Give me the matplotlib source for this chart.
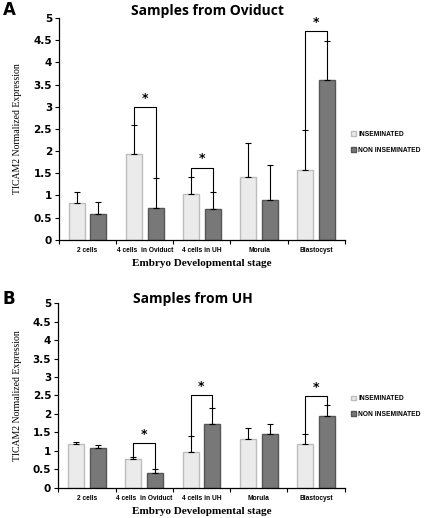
import matplotlib
matplotlib.use('Agg')
import matplotlib.pyplot as plt
import numpy as np

# categories and values
stages = ['2 cells', '4 cells  in Oviduct', '4 cells in UH', 'Morula', 'Blastocyst']
series_names = ['INSEMINATED', 'NON INSEMINATED']

ovi_ins = [0.82, 1.93, 1.03, 1.42, 1.58]
ovi_ins_err = [0.26, 0.67, 0.39, 0.76, 0.89]
ovi_non = [0.58, 0.72, 0.70, 0.90, 3.60]
ovi_non_err = [0.27, 0.67, 0.39, 0.78, 0.88]
ovi_sig = [1, 2, 4]          # groups marked with *
ovi_sig_top = [3.0, 1.63, 4.71]

uh_ins = [1.18, 0.77, 0.97, 1.33, 1.20]
uh_ins_err = [0.06, 0.06, 0.43, 0.28, 0.26]
uh_non = [1.09, 0.41, 1.73, 1.45, 1.95]
uh_non_err = [0.07, 0.10, 0.43, 0.29, 0.28]
uh_sig = [1, 2, 4]
uh_sig_top = [1.22, 2.51, 2.49]

ins_color = '#ebebeb'
ins_edge = '#bdbdbd'
non_color = '#787878'
non_edge = '#555555'
small_font = 'Liberation Sans'


def draw_panel(ax, ins, ins_err, non, non_err, sig, sig_top):
    x = np.arange(len(stages))
    off = 0.19
    w = 0.28
    ekw = dict(ecolor='black', elinewidth=0.8, capsize=2, capthick=0.8)
    ax.bar(x - off, ins, w, color=ins_color, edgecolor=ins_edge, linewidth=1.0,
           yerr=[np.zeros(len(ins)), ins_err], error_kw=ekw, label=series_names[0])
    ax.bar(x + off, non, w, color=non_color, edgecolor=non_edge, linewidth=1.0,
           yerr=[np.zeros(len(non)), non_err], error_kw=ekw, label=series_names[1])

    # significance brackets
    for g, top in zip(sig, sig_top):
        y1 = ins[g] + ins_err[g]
        y2 = non[g] + non_err[g]
        ax.plot([g - off, g - off, g + off, g + off], [y1, top, top, y2], color='black', lw=0.8)
        ax.text(g, top + 0.05, '*', ha='center', va='bottom', fontsize=9, fontweight='bold')

    ax.set_xlim(-0.5, len(stages) - 0.5)
    ax.set_ylim(0, 5)
    ax.set_yticks(np.arange(0, 5.01, 0.5))
    ax.set_yticklabels(['%g' % v for v in np.arange(0, 5.01, 0.5)], fontsize=7.5, fontweight='bold')
    ax.set_xticks(x)
    ax.set_xticklabels(stages, fontsize=4.8, fontweight='bold', family=small_font)
    ax.set_xticks(np.arange(-0.5, len(stages), 1), minor=True)
    ax.tick_params(axis='x', which='major', length=0, pad=5)
    ax.tick_params(axis='x', which='minor', length=3, width=0.8, direction='out')
    ax.tick_params(axis='y', length=3, width=0.8, pad=2)
    for s in ['top', 'right']:
        ax.spines[s].set_visible(False)
    for s in ['left', 'bottom']:
        ax.spines[s].set_linewidth(0.9)

    ax.set_ylabel('TICAM2 Normalized Expression', family='Liberation Serif', fontsize=7, labelpad=8)
    ax.set_xlabel('Embryo Developmental stage', family='Liberation Serif', fontweight='bold', fontsize=8, labelpad=4)

    ax.legend(loc='center left', bbox_to_anchor=(1.0, 0.44), frameon=False,
              prop=dict(size=4.8, weight='bold', family=small_font), handlelength=0.7, handleheight=0.7,
              handletextpad=0.3, labelspacing=1.3, borderaxespad=0.6)


fig = plt.figure(figsize=(4.31, 5.18), dpi=100)
ax_a = fig.add_axes([0.137, 0.537, 0.663, 0.428])
ax_b = fig.add_axes([0.135, 0.058, 0.665, 0.357])

draw_panel(ax_a, ovi_ins, ovi_ins_err, ovi_non, ovi_non_err, ovi_sig, ovi_sig_top)
draw_panel(ax_b, uh_ins, uh_ins_err, uh_non, uh_non_err, uh_sig, uh_sig_top)

# panel titles and letters sit level with the top of each axis
fig.text(208 / 431, 1 - 11 / 518, 'Samples from Oviduct', ha='center', va='center',
         fontsize=10, fontweight='bold', family='Open Sans')
fig.text(193 / 431, 1 - 299 / 518, 'Samples from UH', ha='center', va='center',
         fontsize=10, fontweight='bold', family='Open Sans')
fig.text(3 / 431, 1 - 10 / 518, 'A', ha='left', va='center', fontsize=12, fontweight='bold')
fig.text(3 / 431, 1 - 299 / 518, 'B', ha='left', va='center', fontsize=12, fontweight='bold')

fig.savefig('out.png', dpi=100)
